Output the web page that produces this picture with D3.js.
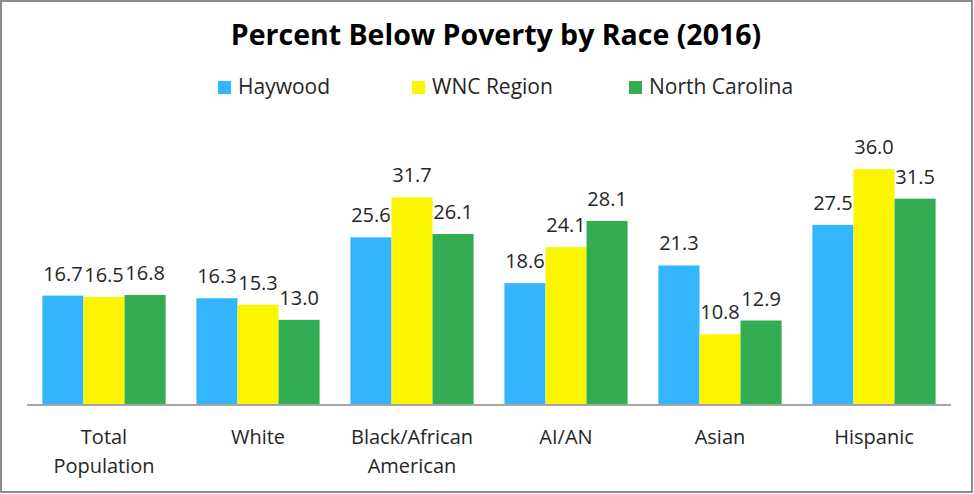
<!DOCTYPE html>
<html>
<head>
<meta charset="utf-8">
<script src="https://cdn.jsdelivr.net/npm/d3@7"></script>
<style>
  body { margin: 0; background: #fff; }
  svg { display: block; font-family: "Open Sans", "Noto Sans", sans-serif; }
</style>
</head>
<body>
<svg id="chart" width="974" height="494"></svg>
<script>
// Chart data
const categories = ["Total Population", "White", "Black/African American", "AI/AN", "Asian", "Hispanic"];
const tickLabels = [["Total", "Population"], ["White"], ["Black/African", "American"], ["AI/AN"], ["Asian"], ["Hispanic"]];
const seriesNames = ["Haywood", "WNC Region", "North Carolina"];
const haywood = [16.7, 16.3, 25.6, 18.6, 21.3, 27.5];
const wncRegion = [16.5, 15.3, 31.7, 24.1, 10.8, 36.0];
const northCarolina = [16.8, 13.0, 26.1, 28.1, 12.9, 31.5];
const seriesValues = [haywood, wncRegion, northCarolina];
const colors = ["#33b6ff", "#fbf500", "#33ad52"];

const width = 974;
const height = 494;
const margin = {top: 143, left: 27, right: 23, bottom: 89};
const baseline = height - margin.bottom;

const svg = d3.select('#chart');

// outer frame
svg.append('rect')
  .attr('x', 1).attr('y', 1)
  .attr('width', width - 3).attr('height', height - 3)
  .attr('fill', '#fff')
  .attr('stroke', '#8c8c8c').attr('stroke-width', 2);

// title
svg.append('text')
  .attr('x', 496).attr('y', 45)
  .attr('text-anchor', 'middle')
  .attr('font-size', 28.5).attr('font-weight', 'bold')
  .attr('fill', '#000')
  .text("Percent Below Poverty by Race (2016)");

// scales
const x0 = d3.scaleBand()
  .domain(categories)
  .range([margin.left, width - margin.right])
  .paddingInner(0.2).paddingOuter(0.1);

const x1 = d3.scaleBand()
  .domain(seriesNames)
  .range([0, x0.bandwidth()]);

const y = d3.scaleLinear()
  .domain([0, 40])
  .range([baseline, margin.top]);

// bars + labels
const groups = svg.append('g').selectAll('g')
  .data(categories)
  .enter().append('g')
  .attr('transform', d => `translate(${x0(d)},0)`);

const rows = (d, i) => seriesNames.map((s, k) => ({series: s, value: seriesValues[k][i], k}));

groups.selectAll('rect')
  .data(rows)
  .enter().append('rect')
  .attr('x', d => x1(d.series))
  .attr('y', d => y(d.value))
  .attr('width', x1.bandwidth())
  .attr('height', d => baseline - y(d.value))
  .attr('fill', d => colors[d.k]);

groups.selectAll('text')
  .data(rows)
  .enter().append('text')
  .attr('x', d => x1(d.series) + x1.bandwidth() / 2)
  .attr('y', d => y(d.value) - 15)
  .attr('text-anchor', 'middle')
  .attr('font-size', 20)
  .attr('fill', '#262626')
  .text(d => d.value.toFixed(1));

// x axis line
svg.append('line')
  .attr('x1', margin.left).attr('x2', width - margin.right)
  .attr('y1', baseline).attr('y2', baseline)
  .attr('stroke', '#a6a6a6').attr('stroke-width', 2);

// category labels
const catLabels = svg.append('g').selectAll('text')
  .data(categories)
  .enter().append('text')
  .attr('x', d => x0(d) + x0.bandwidth() / 2)
  .attr('y', baseline + 39)
  .attr('text-anchor', 'middle')
  .attr('font-size', 20)
  .attr('fill', '#262626');

catLabels.selectAll('tspan')
  .data((d, i) => tickLabels[i])
  .enter().append('tspan')
  .attr('x', function() { return d3.select(this.parentNode).attr('x'); })
  .attr('dy', (d, i) => i === 0 ? 0 : 29)
  .text(d => d);

// legend
const legendX = [218, 412, 629];
const legend = svg.append('g').selectAll('g')
  .data(seriesNames)
  .enter().append('g')
  .attr('transform', (d, i) => `translate(${legendX[i]},81)`);

legend.append('rect')
  .attr('width', 13).attr('height', 13)
  .attr('fill', (d, i) => colors[i]);

legend.append('text')
  .attr('x', 20).attr('y', 13)
  .attr('font-size', 21)
  .attr('fill', '#262626')
  .text(d => d);
</script>
</body>
</html>
